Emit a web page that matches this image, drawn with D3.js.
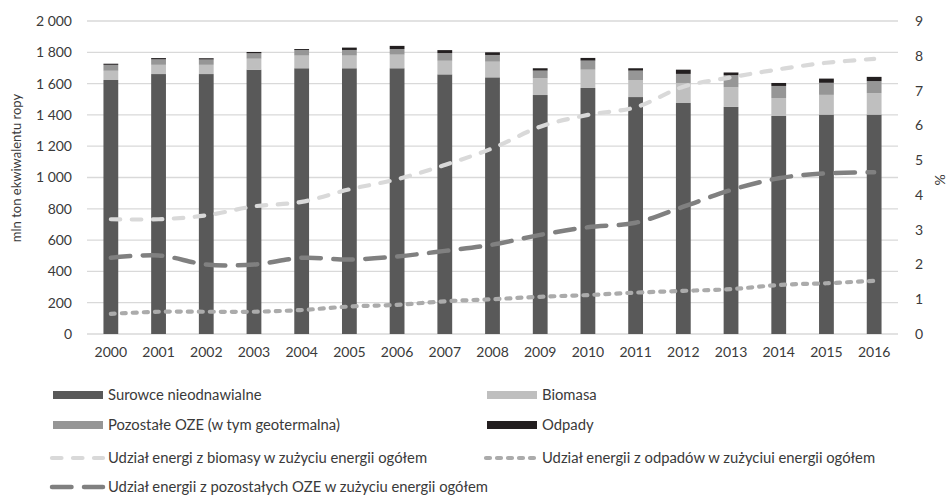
<!DOCTYPE html>
<html><head><meta charset="utf-8">
<script src="https://cdn.jsdelivr.net/npm/d3@7"></script>
<style>
body{margin:0;background:#fff;}
text{font-family:Lato,"Open Sans",sans-serif;fill:#3a3a3a;}
</style></head>
<body><svg id="c" width="950" height="496"></svg>
<script>
const years = ["2000","2001","2002","2003","2004","2005","2006","2007","2008","2009","2010","2011","2012","2013","2014","2015","2016"];
const nieodnawialne = [1623,1661,1661,1689,1698,1698,1698,1659,1640,1527,1572,1514,1476,1451,1393,1402,1402];
const biomasa      = [59,59,59,70,81,81,87,87,100,107,117,109,128,126,115,126,137];
const pozostale    = [38,35,34,35,36,36,36,49,43,49,58,60,58,77,77,77,77];
const odpady       = [7,8,8,8,6,15,20,19,17,15,17,15,27,17,19,27,27];
const udzialBiomasy = [3.30,3.30,3.41,3.67,3.80,4.16,4.45,4.86,5.34,5.96,6.30,6.52,7.11,7.38,7.61,7.80,7.91];
const udzialOdpadow = [0.58,0.64,0.64,0.64,0.69,0.79,0.84,0.94,1.00,1.07,1.12,1.19,1.24,1.29,1.41,1.46,1.53];
const udzialPozost  = [2.19,2.26,2.00,2.00,2.19,2.14,2.23,2.39,2.57,2.85,3.07,3.20,3.66,4.14,4.48,4.62,4.65];
const leftTicks = [0,200,400,600,800,1000,1200,1400,1600,1800,2000];
const rightTicks = [0,1,2,3,4,5,6,7,8,9];

const svg = d3.select("#c");
const L=87, R=898, T=21, B=334;
const x = d3.scaleBand().domain(years).range([L,R]).paddingInner(0.69).paddingOuter(0.345);
const y = d3.scaleLinear().domain([0,2000]).range([B,T]);
const y2 = d3.scaleLinear().domain([0,9]).range([B,T]);
const fmt = v => d3.format(",")(v).replace(/,/g," ");

// gridlines
svg.append("g").selectAll("line").data(leftTicks).join("line")
  .attr("x1",L).attr("x2",R).attr("y1",d=>y(d)).attr("y2",d=>y(d))
  .attr("stroke","#d9d9d9").attr("stroke-width",1.3);

const axisFont = sel => sel.selectAll("text").style("font-size","14px").style("fill","#3a3a3a").style("font-family","Lato");
// left axis
const ga = svg.append("g").attr("transform",`translate(${L},0)`)
  .call(d3.axisLeft(y).tickValues(leftTicks).tickFormat(fmt).tickSize(0).tickPadding(15));
ga.select(".domain").remove(); axisFont(ga);

const gr = svg.append("g").attr("transform",`translate(${R},0)`)
  .call(d3.axisRight(y2).tickValues(rightTicks).tickSize(0).tickPadding(17));
gr.select(".domain").remove(); axisFont(gr);

const gx = svg.append("g").attr("transform",`translate(0,${B})`)
  .call(d3.axisBottom(x).tickSize(0).tickPadding(13));
gx.select(".domain").remove(); axisFont(gx);

// axis titles
svg.append("text").attr("transform","translate(21,168) rotate(-90)").attr("text-anchor","middle")
  .style("font-size","13px").text("mln ton ekwiwalentu ropy");
svg.append("text").attr("transform","translate(945,180) rotate(-90)").attr("text-anchor","middle")
  .style("font-size","14px").text("%");

// stacked bars
const keys = ["n","b","p","o"];
const colors = {n:"#595959",b:"#bfbfbf",p:"#969696",o:"#231f20"};
const rows = years.map((yr,i)=>({year:yr,n:nieodnawialne[i],b:biomasa[i],p:pozostale[i],o:odpady[i]}));
const stack = d3.stack().keys(keys)(rows);
svg.append("g").selectAll("g").data(stack).join("g").attr("fill",d=>colors[d.key])
  .selectAll("rect").data(d=>d).join("rect")
  .attr("x",d=>x(d.data.year)).attr("width",x.bandwidth())
  .attr("y",d=>y(d[1])).attr("height",d=>y(d[0])-y(d[1]));

// lines
const cx = yr => x(yr)+x.bandwidth()/2;
const lineGen = d3.line().x((d,i)=>cx(years[i])).y(d=>y2(d)).curve(d3.curveCatmullRom.alpha(0.5));
const lineDefs = [
  {data:udzialBiomasy, color:"#d9d9d9", dash:"9.5 11.5", w:4.2},
  {data:udzialOdpadow, color:"#ababab", dash:"4 7", w:4.2},
  {data:udzialPozost, color:"#808080", dash:"19.5 12.5", w:4.5}
];
lineDefs.forEach(l=>{
  svg.append("path").datum(l.data).attr("d",lineGen).attr("fill","none")
    .attr("stroke",l.color).attr("stroke-width",l.w).attr("stroke-dasharray",l.dash)
    .attr("stroke-linecap","round");
});

// legend
const leg = svg.append("g");
const FS = "14.8px";
const boxes = [
  {x:53,y:395,c:colors.n,t:"Surowce nieodnawialne"},
  {x:487,y:395,c:colors.b,t:"Biomasa"},
  {x:53,y:425,c:colors.p,t:"Pozostałe OZE (w tym geotermalna)"},
  {x:487,y:425,c:colors.o,t:"Odpady"}
];
boxes.forEach(b=>{
  leg.append("rect").attr("x",b.x).attr("y",b.y-4).attr("width",50).attr("height",8).attr("fill",b.c);
  leg.append("text").attr("x",b.x+55).attr("y",b.y).attr("dy","0.35em").style("font-size",FS).text(b.t);
});
const lines = [
  {x:53,y:458,l:lineDefs[0],t:"Udział energi z biomasy w zużyciu energii ogółem"},
  {x:487,y:458,l:lineDefs[1],t:"Udział energii z odpadów w zużyciui energii ogółem"},
  {x:53,y:487,l:lineDefs[2],t:"Udział energii z pozostałych OZE w zużyciu energii ogółem"}
];
lines.forEach(b=>{
  leg.append("line").attr("x1",b.x-1).attr("x2",b.x+50).attr("y1",b.y).attr("y2",b.y)
    .attr("stroke",b.l.color).attr("stroke-width",b.l.w).attr("stroke-dasharray",b.l.dash).attr("stroke-linecap","round");
  leg.append("text").attr("x",b.x+55).attr("y",b.y).attr("dy","0.35em").style("font-size",FS).text(b.t);
});
</script></body></html>
